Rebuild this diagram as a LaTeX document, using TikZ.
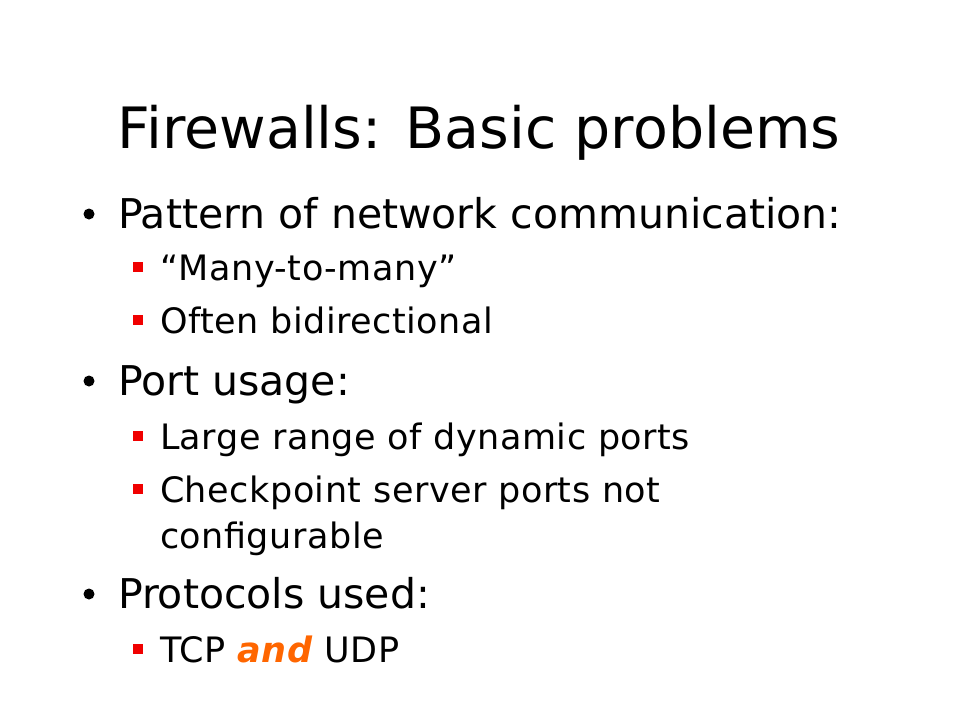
\documentclass[tikz,border=0pt]{standalone}
\usepackage{fontspec}
\setmainfont{DejaVu Sans}
\usetikzlibrary{positioning}
\definecolor{bulletred}{RGB}{240,0,0}
\definecolor{andorange}{RGB}{255,102,0}

\begin{document}
\begin{tikzpicture}[x=1pt,y=-1pt,
    every node/.style={inner sep=0pt,outer sep=0pt,anchor=base west},
    lvlone/.style={font=\fontsize{41}{41}\selectfont},
    lvltwo/.style={font=\fontsize{35}{35}\selectfont\addfontfeature{LetterSpace=1.5}},
    sqbullet/.style={fill=bulletred,minimum size=10pt,anchor=center}]

    % page
    \useasboundingbox[fill=white] (0,0) rectangle (960,720);

    % title
    \node[anchor=base,font=\fontsize{57}{57}\selectfont] (title) at (479,148) {Firewalls: Basic problems};

    % first group
    \node[lvlone] (pat) at (118,228) {Pattern of network communication:};
    \node[lvltwo] (many) at (160,280) {“Many-to-many”};
    \node[lvltwo] (often) at (160,333) {Often bidirectional};

    % second group
    \node[lvlone] (port) at (118,395) {Port usage:};
    \node[lvltwo] (range) at (160,449) {Large range of dynamic ports};
    \node[lvltwo] (check) at (160,502) {Checkpoint server ports not};
    \node[lvltwo] (conf) at (160,548) {configurable};

    % third group
    \node[lvlone] (proto) at (118,608) {Protocols used:};
    \node[lvltwo] (tcp) at (160,662) {TCP \textcolor{andorange}{\textbf{\textit{and}}} UDP};

    % bullets
    \foreach \n in {pat,port,proto}
        \fill (89,0 |- \n.base) ++(0,-14) circle (5.5);
    \foreach \n in {many,often,range,check,tcp}
        \node[sqbullet] at ([xshift=-22pt,yshift=13pt]\n.base west) {};
\end{tikzpicture}
\end{document}
